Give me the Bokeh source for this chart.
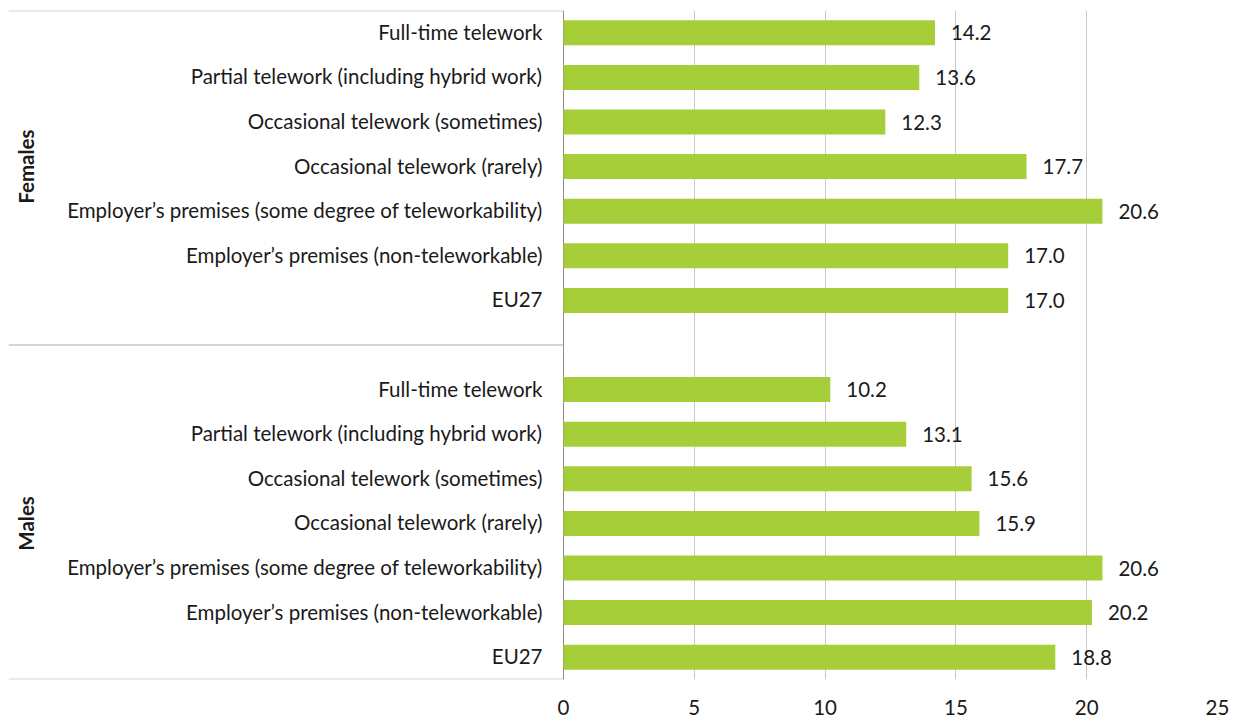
from bokeh.plotting import figure
from bokeh.models import ColumnDataSource, FixedTicker, Range1d
from bokeh.core.properties import value
from bokeh.embed import file_html
from bokeh.resources import INLINE
import math

categories = [
    "Full-time telework",
    "Partial telework (including hybrid work)",
    "Occasional telework (sometimes)",
    "Occasional telework (rarely)",
    "Employer\u2019s premises (some degree of teleworkability)",
    "Employer\u2019s premises (non-teleworkable)",
    "EU27",
]
groups = ["Females", "Males"]
females = [14.2, 13.6, 12.3, 17.7, 20.6, 17.0, 17.0]
males = [10.2, 13.1, 15.6, 15.9, 20.6, 20.2, 18.8]
x_ticks = [0, 5, 10, 15, 20, 25]

FONT = "Lato"
FS = "20.5px"
BAR_COLOR = "#a6ce39"

n = len(categories)
slots = 2 * n + 1
# y positions (top to bottom)
ys, labels, vals = [], [], []
for gi, series in enumerate([females, males]):
    for ci, v in enumerate(series):
        k = gi * (n + 1) + ci
        ys.append(slots - (k + 0.5))
        labels.append(categories[ci])
        vals.append(v)
group_y = [slots - (gi * (n + 1) + n // 2 + 0.5) for gi in range(2)]
sep_y = [slots, slots - (n + 0.5), 0]

xmax = 25
label_px, plot_px = 555, 654
xmin = -xmax * label_px / plot_px

src = ColumnDataSource(dict(y=ys, label=labels, v=vals,
                            vtxt=[f"{v:.1f}" for v in vals]))

p = figure(frame_width=label_px + plot_px, frame_height=669,
           x_range=Range1d(xmin, xmax), y_range=Range1d(0, slots),
           output_backend="svg", toolbar_location=None,
           min_border_left=8, min_border_right=12, min_border_top=10,
           min_border_bottom=0)
p.outline_line_color = None
p.yaxis.visible = False
p.ygrid.grid_line_color = None
p.xgrid.ticker = FixedTicker(ticks=x_ticks[1:])
p.xgrid.grid_line_color = "#c8c8c8"
p.xgrid.grid_line_width = 1

xa = p.xaxis[0]
xa.ticker = FixedTicker(ticks=x_ticks)
xa.axis_line_color = None
xa.major_tick_line_color = None
xa.minor_tick_line_color = None
xa.major_label_text_font = FONT
xa.major_label_text_font_size = FS
xa.major_label_text_color = "#1a1a1a"
xa.major_label_standoff = 14

# separator lines in the label area
p.segment(x0=[xmin] * 3, x1=[0] * 3, y0=sep_y, y1=sep_y,
          line_color="#d6d6d6", line_width=2)
# value axis line
p.segment(x0=[0], x1=[0], y0=[0], y1=[slots], line_color="#8c8c8c", line_width=1)

p.hbar(y="y", left=0, right="v", height=0.56, source=src,
       fill_color=BAR_COLOR, line_color=None)

p.text(x=0, y="y", text="label", source=src, x_offset=-21, y_offset=-1,
       text_align="right", text_baseline="middle",
       text_font=value(FONT), text_font_size=FS, text_color="#1a1a1a")
p.text(x="v", y="y", text="vtxt", source=src, x_offset=16, y_offset=0,
       text_align="left", text_baseline="middle",
       text_font=value(FONT), text_font_size=FS, text_color="#1a1a1a")
p.text(x=[xmin, xmin], y=group_y, text=groups, x_offset=17, angle=math.pi / 2,
       text_align="center", text_baseline="middle",
       text_font=value(FONT), text_font_size=FS, text_font_style="bold",
       text_color="#1a1a1a")

open("out.html", "w").write(file_html(p, INLINE))
